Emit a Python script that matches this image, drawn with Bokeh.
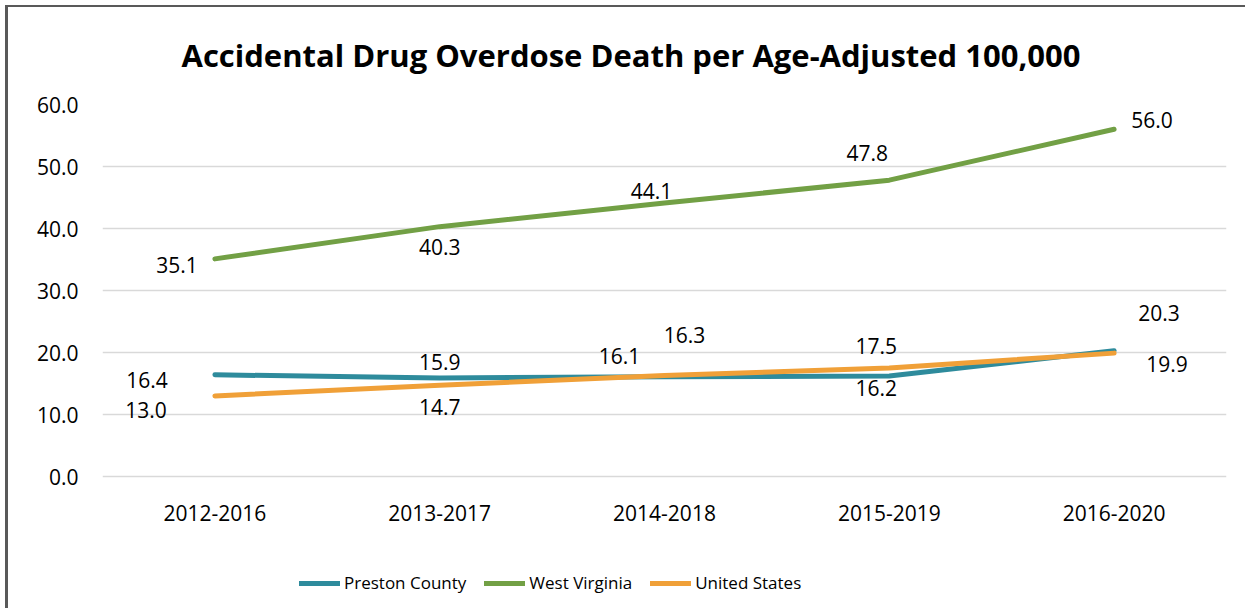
from bokeh.plotting import figure
from bokeh.models import ColumnDataSource, FactorRange, Range1d, FixedTicker, PrintfTickFormatter, Legend, LegendItem
from bokeh.embed import file_html
from bokeh.resources import INLINE
from bokeh.core.properties import value

# ---- data ----
periods = ["2012-2016", "2013-2017", "2014-2018", "2015-2019", "2016-2020"]
preston = [16.4, 15.9, 16.1, 16.2, 20.3]
west_virginia = [35.1, 40.3, 44.1, 47.8, 56.0]
united_states = [13.0, 14.7, 16.3, 17.5, 19.9]
series_names = ["Preston County", "West Virginia", "United States"]
y_ticks = [0, 10, 20, 30, 40, 50, 60]
title_text = "Accidental Drug Overdose Death per Age-Adjusted 100,000"

# ---- styling ----
colors = ["#2E8B9C", "#72A045", "#F0A038"]
FONT = "Open Sans"
# data-label offsets in pixels (as placed in the original)
preston_dx = [-68, 0, -45, -13, 45]
preston_dy = [5, -16, -21, 12, -38]
wv_dx = [-38, 0, -13, -22, 38]
wv_dy = [6, 20, -12, -27, -9]
us_dx = [-69, 0, 20, -13, 53]
us_dy = [14, 22, -40, -22, 11]

# frame reaches down to the legend row; the value axis itself spans 0..60
p = figure(
    x_range=FactorRange(factors=periods, range_padding=0),
    y_range=Range1d(-20, 60),
    width=1245, height=608,
    output_backend="svg", toolbar_location=None,
    min_border_left=102, min_border_right=19, min_border_top=104, min_border_bottom=8,
)
p.stylesheets = [":host { background: "
                 "linear-gradient(#595959, #595959) 5px 5px / 3px calc(100% - 5px) no-repeat, "
                 "linear-gradient(#595959, #595959) 5px 5px / calc(100% - 5px) 2px no-repeat, "
                 "#ffffff; }"]
p.outline_line_color = None
p.background_fill_color = "white"
p.border_fill_color = None

p.title.text = title_text
p.title.text_font = FONT
p.title.text_font_style = "bold"
p.title.text_font_size = "31px"
p.title.text_line_height = 0.8
p.title.text_color = "black"
p.title.align = "left"
p.title.offset = 79
p.title.standoff = 58

p.xgrid.grid_line_color = None
p.ygrid.grid_line_color = "#D9D9D9"
p.ygrid.grid_line_width = 1.5
p.yaxis.ticker = FixedTicker(ticks=y_ticks)
p.yaxis.formatter = PrintfTickFormatter(format="%.1f")
p.xaxis.fixed_location = 0
for ax in (p.xaxis, p.yaxis):
    ax.axis_line_color = None
    ax.major_tick_line_color = None
    ax.minor_tick_line_color = None
    ax.major_label_text_font = FONT
    ax.major_label_text_font_size = "21px"
    ax.major_label_text_color = "black"
p.yaxis.major_label_standoff = 18
p.xaxis.major_label_standoff = 22

series = [preston, west_virginia, united_states]
offsets = [(preston_dx, preston_dy), (wv_dx, wv_dy), (us_dx, us_dy)]
items = []
for name, vals, col in zip(series_names, series, colors):
    src = ColumnDataSource(dict(x=periods, y=vals))
    r = p.line("x", "y", source=src, line_color=col, line_width=5, line_cap="round", line_join="round")
    items.append(LegendItem(label=name, renderers=[r]))
for vals, (dx, dy) in zip(series, offsets):
    src = ColumnDataSource(dict(x=periods, y=vals, lab=["%.1f" % v for v in vals], dx=dx, dy=dy))
    p.text("x", "y", text="lab", source=src, x_offset="dx", y_offset="dy",
           text_align="center", text_baseline="middle", text_font=value(FONT),
           text_font_size="21px", text_color="black")

legend = Legend(items=items, orientation="horizontal", location=(197, 6),
                glyph_width=41, glyph_height=20, label_standoff=4, spacing=18,
                padding=0, margin=0, border_line_color=None, background_fill_alpha=0,
                label_text_font=FONT, label_text_font_size="17px", label_text_color="black")
p.add_layout(legend, "center")

open("out.html", "w").write(file_html(p, INLINE))
